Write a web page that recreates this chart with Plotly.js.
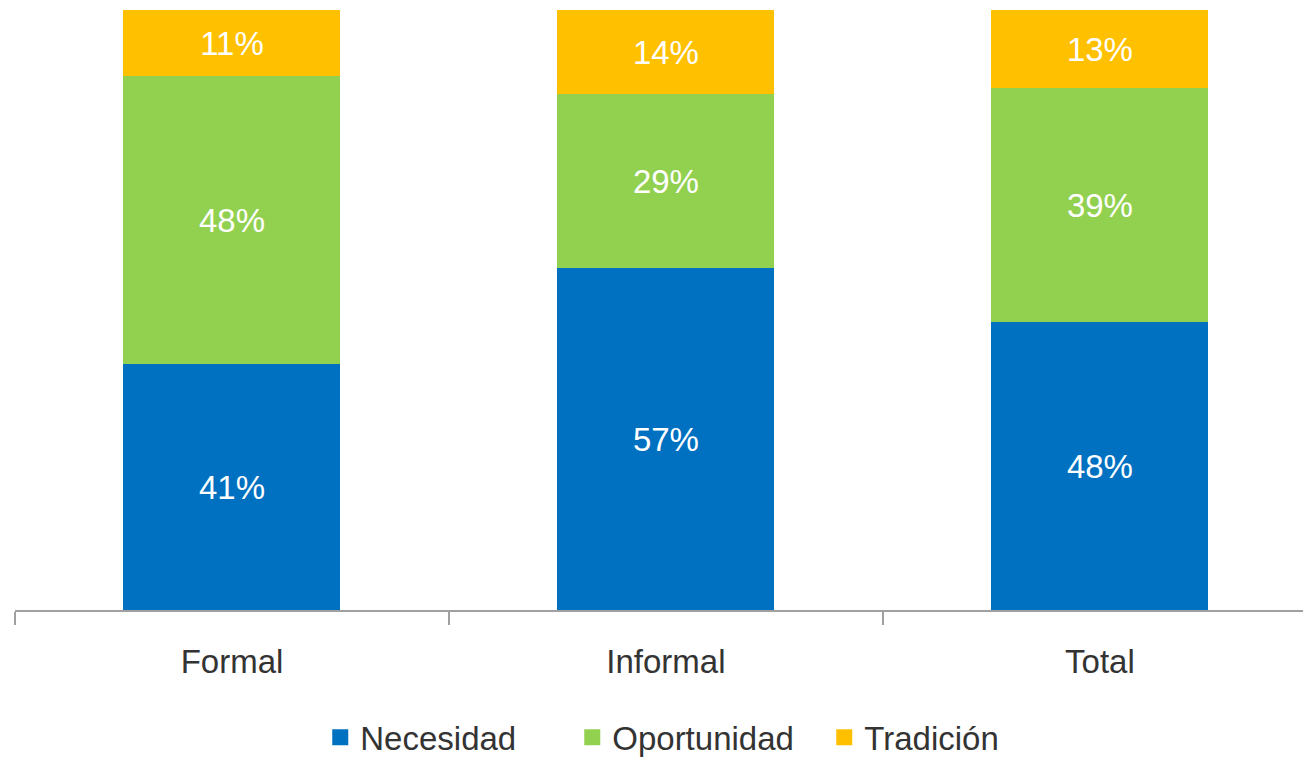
<!DOCTYPE html>
<html>
<head>
<meta charset="utf-8">
<script src="https://cdn.plot.ly/plotly-3.0.1.min.js"></script>
<style>html,body{margin:0;padding:0;background:#fff;}#chart{width:1303px;height:760px;}</style>
</head>
<body>
<div id="chart"></div>
<script>
const categories = ["Formal", "Informal", "Total"];
const seriesNames = ["Necesidad", "Oportunidad", "Tradición"];
const necesidad = [41, 57, 48];
const oportunidad = [48, 29, 39];
const tradicion = [11, 14, 13];
const colors = ["#0070C0", "#92D050", "#FFC000"];

const seriesValues = [necesidad, oportunidad, tradicion];
const FONT = "Liberation Sans, Arial, sans-serif";

const traces = [];
seriesValues.forEach((vals, i) => {
  traces.push({
    type: "bar",
    name: seriesNames[i],
    x: categories,
    y: vals,
    marker: {color: colors[i], line: {width: 0}},
    texttemplate: "%{y}%",
    textposition: "inside",
    insidetextanchor: "middle",
    textangle: 0,
    constraintext: "none",
    textfont: {family: FONT, size: 33, color: "#ffffff"},
    hoverinfo: "x+y+name",
    showlegend: false
  });
});
seriesValues.forEach((vals, i) => {
  traces.push({
    type: "scatter",
    mode: "markers",
    name: seriesNames[i],
    x: [null],
    y: [null],
    marker: {symbol: "square", size: 16, color: colors[i]},
    showlegend: true,
    hoverinfo: "skip"
  });
});

const layout = {
  width: 1303,
  height: 760,
  margin: {l: 15, r: 0, t: 10, b: 150, autoexpand: false},
  barmode: "stack",
  bargap: 0.5,
  paper_bgcolor: "#ffffff",
  plot_bgcolor: "#ffffff",
  font: {family: FONT, color: "#333333"},
  xaxis: {
    type: "category",
    range: [-0.5, 2.468],
    tickson: "boundaries",
    ticks: "outside",
    ticklen: 13,
    tickwidth: 1.5,
    tickcolor: "#a0a0a0",
    ticklabelstandoff: 21,
    showline: true,
    linecolor: "#a0a0a0",
    linewidth: 2,
    showgrid: false,
    zeroline: false,
    tickfont: {family: FONT, size: 33, color: "#333333"},
    fixedrange: true
  },
  yaxis: {
    range: [0, 100],
    visible: false,
    showgrid: false,
    zeroline: false,
    fixedrange: true
  },
  showlegend: true,
  legend: {
    orientation: "h",
    x: 0.237,
    xanchor: "left",
    y: -0.212,
    yanchor: "middle",
    entrywidth: 207,
    entrywidthmode: "pixels",
    font: {family: FONT, size: 33, color: "#333333"},
    traceorder: "normal",
    bgcolor: "rgba(0,0,0,0)"
  }
};

Plotly.newPlot("chart", traces, layout, {displayModeBar: false, staticPlot: true});
</script>
</body>
</html>
